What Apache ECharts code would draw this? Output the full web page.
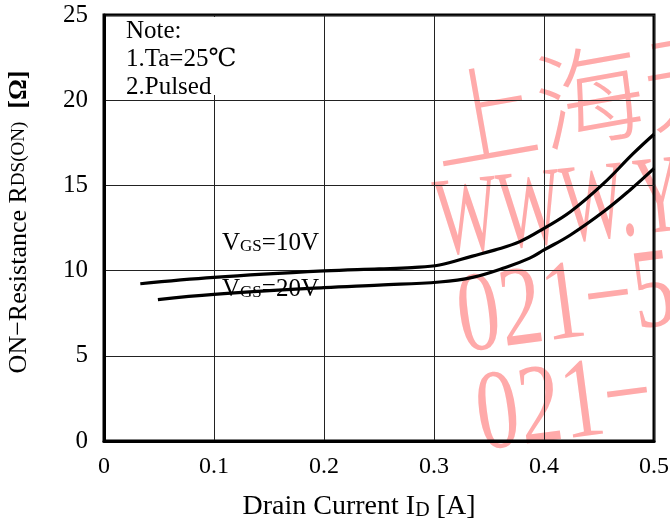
<!DOCTYPE html>
<html>
<head>
<meta charset="utf-8">
<script src="https://cdn.jsdelivr.net/npm/echarts@6/dist/echarts.min.js"></script>
<style>
  html, body { margin: 0; padding: 0; background: #fff; }
  #chart { width: 670px; height: 519px; }
</style>
</head>
<body>
<div id="chart"></div>
<script>
// data
const xTicks = [0, 0.1, 0.2, 0.3, 0.4, 0.5];
const yTicks = [0, 5, 10, 15, 20, 25];

const idVgs10 = [0.033, 0.1, 0.2, 0.25, 0.28, 0.305, 0.335, 0.355, 0.378, 0.4, 0.424, 0.454, 0.481, 0.5];
const rdsVgs10 = [9.23, 9.6, 9.98, 10.1, 10.18, 10.33, 10.85, 11.2, 11.7, 12.48, 13.45, 15.1, 16.86, 18.0];

const idVgs20 = [0.049, 0.1, 0.2, 0.25, 0.305, 0.335, 0.365, 0.387, 0.4, 0.424, 0.454, 0.478, 0.5];
const rdsVgs20 = [8.3, 8.6, 9.0, 9.15, 9.33, 9.6, 10.18, 10.73, 11.21, 12.09, 13.45, 14.72, 16.0];

const noteLines = ['Note:', '1.Ta=25\u2103', '2.Pulsed'];
const watermark = ['上海元', 'WWW.Y', '021\u22125', '021\u2212'];

const serif = '"Liberation Serif", "DejaVu Serif", serif';
const pink = '#ffaaaa';

const chart = echarts.init(document.getElementById('chart'));

const pair = (xs, ys) => xs.map((x, i) => [x, ys[i]]);

// 水印: about 10 degrees, the squeeze steepens the baseline so rotate less
const wmTilt = Math.tan(10 * Math.PI / 180);
const wmItems = [
  { t: watermark[0], x: 430, y: 124, size: 108, sx: 1, font: '"Noto Sans CJK SC", sans-serif' },
  { t: watermark[1], x: 436, y: 226, size: 112, sx: 0.6, font: serif },
  { t: watermark[2], x: 458, y: 322, size: 114, sx: 0.75, font: serif },
  { t: watermark[3], x: 477, y: 420, size: 114, sx: 0.75, font: serif }
].map(w => ({
  type: 'group',
  x: w.x,
  y: w.y,
  rotation: Math.atan(wmTilt * w.sx),
  z: -1,
  silent: true,
  children: [{
    type: 'text',
    scaleX: w.sx,
    z: -1,
    style: {
      text: w.t,
      fill: pink,
      font: '300 ' + w.size + 'px ' + w.font,
      textAlign: 'left',
      textVerticalAlign: 'middle'
    }
  }]
}));

const subStyle = { fontFamily: serif, fontSize: 17, fill: '#000', verticalAlign: 'bottom' };

const curve = {
  type: 'line',
  smooth: 0.4,
  showSymbol: false,
  lineStyle: { color: '#000', width: 3.2 },
  z: 5
};

const option = {
  animation: false,
  backgroundColor: '#fff',
  grid: {
    left: 104,
    right: 16,
    top: 15,
    bottom: 78,
    outerBoundsMode: 'none',
    containLabel: false,
    show: true,
    borderColor: '#000',
    borderWidth: 3,
    backgroundColor: 'transparent'
  },
  xAxis: {
    type: 'value',
    min: xTicks[0],
    max: xTicks[xTicks.length - 1],
    interval: 0.1,
    axisLine: { show: true, lineStyle: { color: '#000', width: 3 } },
    axisTick: { show: false },
    splitLine: { show: true, lineStyle: { color: '#222', width: 1 } },
    axisLabel: {
      margin: 14,
      color: '#000',
      fontFamily: serif,
      fontSize: 24,
      formatter: v => String(Math.round(v * 10) / 10)
    },
    name: 'Drain Current I{s|D} [A]',
    nameLocation: 'middle',
    nameGap: 52,
    nameTextStyle: {
      color: '#000',
      fontFamily: serif,
      fontSize: 28,
      padding: [0, 40, 0, 0],
      rich: { s: { fontFamily: serif, fontSize: 20, color: '#000', verticalAlign: 'bottom' } }
    }
  },
  yAxis: {
    type: 'value',
    min: yTicks[0],
    max: yTicks[yTicks.length - 1],
    interval: 5,
    axisLine: { show: true, lineStyle: { color: '#000', width: 3 } },
    axisTick: { show: false },
    splitLine: { show: true, lineStyle: { color: '#222', width: 1 } },
    axisLabel: {
      margin: 16,
      color: '#000',
      fontFamily: serif,
      fontSize: 25
    },
    name: 'ON\u2212Resistance R{s|DS(ON)}  {b|[\u03a9]}',
    nameLocation: 'middle',
    nameGap: 72,
    nameTextStyle: {
      color: '#000',
      fontFamily: serif,
      fontSize: 26,
      padding: [0, 0, 0, 12],
      rich: {
        s: { fontFamily: serif, fontSize: 19, color: '#000' },
        b: { fontFamily: serif, fontSize: 26, fontWeight: 'bold', color: '#000' }
      }
    }
  },
  series: [
    Object.assign({ name: 'VGS=10V', data: pair(idVgs10, rdsVgs10) }, curve),
    Object.assign({ name: 'VGS=20V', data: pair(idVgs20, rdsVgs20) }, curve)
  ],
  graphic: {
    elements: wmItems.concat([
      {
        type: 'rect',
        shape: { x: 106, y: 17, width: 190, height: 78 },
        style: { fill: '#fff' },
        z: 3,
        silent: true
      },
      {
        type: 'group',
        z: 10,
        children: noteLines.map((t, i) => ({
          type: 'text',
          x: 126,
          y: 31 + i * 28,
          z: 10,
          style: {
            text: t,
            fill: '#000',
            font: '25px ' + serif,
            textAlign: 'left',
            textVerticalAlign: 'middle'
          }
        }))
      },
      {
        type: 'text',
        x: 222,
        y: 243,
        z: 10,
        style: {
          text: 'V{s|GS}=10V',
          fill: '#000',
          font: '25px ' + serif,
          textVerticalAlign: 'middle',
          rich: { s: subStyle }
        }
      },
      {
        type: 'text',
        x: 222,
        y: 289,
        z: 10,
        style: {
          text: 'V{s|GS}=20V',
          fill: '#000',
          font: '25px ' + serif,
          textVerticalAlign: 'middle',
          rich: { s: subStyle }
        }
      }
    ])
  }
};

chart.setOption(option);
</script>
</body>
</html>
